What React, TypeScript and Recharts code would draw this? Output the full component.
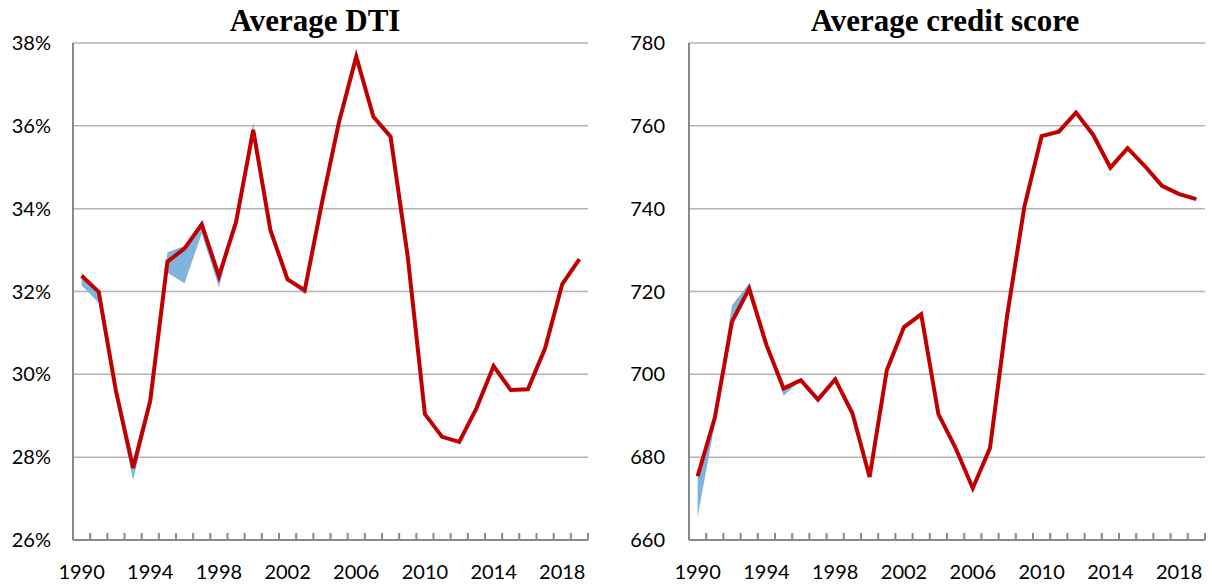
import { Area, CartesianGrid, ComposedChart, Line, XAxis, YAxis } from 'recharts'

const years = [
  1990, 1991, 1992, 1993, 1994, 1995, 1996, 1997, 1998, 1999,
  2000, 2001, 2002, 2003, 2004, 2005, 2006, 2007, 2008, 2009,
  2010, 2011, 2012, 2013, 2014, 2015, 2016, 2017, 2018, 2019,
]
const yearLabels = [1990, 1994, 1998, 2002, 2006, 2010, 2014, 2018]

// average DTI, percent
const dti = [
  32.38, 31.99, 29.6, 27.74, 29.36, 32.72, 33.04, 33.62, 32.37, 33.68,
  35.9, 33.48, 32.29, 32.03, 34.14, 36.1, 37.67, 36.22, 35.74, 32.84,
  29.04, 28.49, 28.37, 29.18, 30.2, 29.62, 29.64, 30.63, 32.18, 32.78,
]
const dtiLow = [
  32.15, 31.72, 29.42, 27.45, 29.2, 32.45, 32.2, 33.4, 32.1, 33.68,
  35.9, 33.48, 32.29, 31.92, 34.14, 36.1, 37.67, 36.22, 35.74, 32.84,
  29.04, 28.49, 28.37, 29.18, 30.2, 29.62, 29.64, 30.63, 32.18, 32.78,
]
const dtiHigh = [
  32.45, 31.99, 29.6, 27.74, 29.36, 32.95, 33.1, 33.7, 32.37, 33.68,
  36.08, 33.48, 32.29, 32.03, 34.14, 36.1, 37.67, 36.22, 35.74, 32.84,
  29.04, 28.49, 28.37, 29.18, 30.2, 29.62, 29.64, 30.63, 32.18, 32.78,
]
const dtiTicks = [26, 28, 30, 32, 34, 36, 38]

// average credit score
const credit = [
  675.4, 689.5, 712.7, 720.7, 707.1, 696.6, 698.6, 693.9, 698.8, 690.6,
  675.2, 701, 711.4, 714.5, 690.4, 682.2, 672.5, 682.2, 714.3, 740.5,
  757.5, 758.6, 763.2, 757.8, 749.9, 754.6, 750.3, 745.5, 743.5, 742.3,
]
const creditLow = [
  665.5, 688, 712.7, 720.7, 707.1, 694.8, 698.6, 693.9, 698.8, 690.6,
  675.2, 701, 711.4, 714.5, 690.4, 682.2, 672.5, 682.2, 714.3, 740.5,
  757.5, 758.6, 763.2, 757.8, 749.9, 754.6, 750.3, 745.5, 743.5, 742.3,
]
const creditHigh = [
  675.4, 690, 716.7, 722, 707.1, 696.6, 698.6, 693.9, 698.8, 690.6,
  675.2, 701, 711.4, 714.5, 690.4, 682.2, 672.5, 682.2, 714.3, 740.5,
  757.5, 758.6, 763.2, 757.8, 749.9, 754.6, 750.3, 745.5, 743.5, 742.3,
]
const creditTicks = [660, 680, 700, 720, 740, 760, 780]

const RED = '#c00000'
const BLUE = '#7fb4df'
const BORDER = '#898989'
const GRID = '#b3b3b3'
const LABEL_FONT = 'Lato, "Open Sans", sans-serif'

// category boundaries (tick marks) plus the labelled years
const boundaries = [...years.map((y) => y - 0.5), years[years.length - 1] + 0.5]
const xTicks = [...boundaries, ...yearLabels].sort((a, b) => a - b)

const dtiData = years.map((year, i) => ({ year, value: dti[i], band: [dtiLow[i], dtiHigh[i]] }))
const creditData = years.map((year, i) => ({ year, value: credit[i], band: [creditLow[i], creditHigh[i]] }))

function YearTick(props: any) {
  const { x, y, payload } = props
  const v = payload.value
  if (Number.isInteger(v)) {
    return (
      <text x={x} y={y + 39} textAnchor="middle" fontFamily={LABEL_FONT} fontSize={20} fill="#000">
        {v}
      </text>
    )
  }
  return <line x1={x} x2={x} y1={y} y2={y - 7} stroke={BORDER} strokeWidth={2} />
}

type PanelProps = {
  data: { year: number; value: number; band: number[] }[]
  ticks: number[]
  domain: [number, number]
  fmt: (v: number) => string
  width: number
  axisWidth: number
  right: number
  labelGap: number
}

function Panel({ data, ticks, domain, fmt, width, axisWidth, right, labelGap }: PanelProps) {
  return (
    <ComposedChart width={width} height={585} data={data} margin={{ top: 43, right, bottom: 0, left: 0 }}>
      <CartesianGrid vertical={false} stroke={GRID} strokeWidth={1.5} yAxisId="v" xAxisId="x" />
      <XAxis
        xAxisId="x"
        dataKey="year"
        type="number"
        domain={[1989.5, 2019.5]}
        ticks={xTicks}
        interval={0}
        tick={<YearTick />}
        tickLine={false}
        tickSize={0}
        tickMargin={0}
        height={45}
        axisLine={{ stroke: BORDER, strokeWidth: 2 }}
      />
      <XAxis
        xAxisId="t"
        orientation="top"
        dataKey="year"
        type="number"
        domain={[1989.5, 2019.5]}
        tick={false}
        tickLine={false}
        height={0}
        axisLine={{ stroke: BORDER, strokeWidth: 2 }}
      />
      <YAxis
        yAxisId="v"
        type="number"
        domain={domain}
        ticks={ticks}
        tickFormatter={fmt}
        width={axisWidth}
        tickLine={false}
        tickSize={0}
        tickMargin={labelGap}
        axisLine={{ stroke: BORDER, strokeWidth: 2 }}
        tick={{ fill: '#000', fontSize: 20, fontFamily: LABEL_FONT }}
      />
      <YAxis
        yAxisId="r"
        orientation="right"
        type="number"
        domain={domain}
        tick={false}
        tickLine={false}
        width={0}
        axisLine={{ stroke: BORDER, strokeWidth: 2 }}
      />
      <Area
        xAxisId="x"
        yAxisId="v"
        type="linear"
        dataKey="band"
        stroke="none"
        fill={BLUE}
        fillOpacity={1}
        isAnimationActive={false}
        activeDot={false}
      />
      <Line
        xAxisId="x"
        yAxisId="v"
        type="linear"
        dataKey="value"
        stroke={RED}
        strokeWidth={4}
        dot={false}
        activeDot={false}
        isAnimationActive={false}
      />
    </ComposedChart>
  )
}

const titleStyle: React.CSSProperties = {
  position: 'absolute',
  top: 5,
  fontFamily: '"Liberation Serif", "Times New Roman", serif',
  fontWeight: 'bold',
  fontSize: 31,
  lineHeight: '31px',
  textAlign: 'center',
  color: '#000',
  whiteSpace: 'nowrap',
}

export default function App() {
  return (
    <div style={{ position: 'absolute', left: 0, top: 0, width: 1212, height: 585, background: '#fff' }}>
      <div style={{ position: 'absolute', left: 0, top: 0 }}>
        <Panel
          data={dtiData}
          ticks={dtiTicks}
          domain={[26, 38]}
          fmt={(v) => `${v}%`}
          width={600}
          axisWidth={73}
          right={12}
          labelGap={22}
        />
      </div>
      <div style={{ position: 'absolute', left: 600, top: 0 }}>
        <Panel
          data={creditData}
          ticks={creditTicks}
          domain={[660, 780]}
          fmt={(v) => `${v}`}
          width={612}
          axisWidth={89}
          right={7}
          labelGap={24}
        />
      </div>
      <div style={{ ...titleStyle, left: 215, width: 200 }}>Average DTI</div>
      <div style={{ ...titleStyle, left: 795, width: 300 }}>Average credit score</div>
    </div>
  )
}
